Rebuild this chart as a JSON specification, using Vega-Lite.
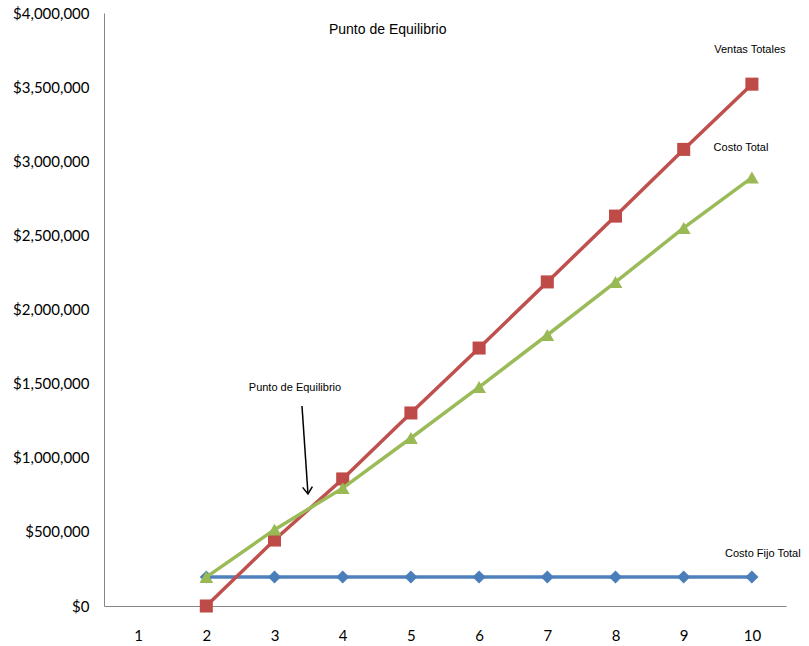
{
  "$schema": "https://vega.github.io/schema/vega-lite/v6.json",
  "autosize": "none",
  "width": 682,
  "height": 593,
  "padding": {"left": 104, "top": 13, "right": 23, "bottom": 40},
  "background": "white",
  "config": {"view": {"stroke": null}},
  "datasets": {
    "series": [
      {"serie": "Costo Fijo Total", "unidades": 2, "valor": 195000},
      {"serie": "Costo Fijo Total", "unidades": 3, "valor": 195000},
      {"serie": "Costo Fijo Total", "unidades": 4, "valor": 195000},
      {"serie": "Costo Fijo Total", "unidades": 5, "valor": 195000},
      {"serie": "Costo Fijo Total", "unidades": 6, "valor": 195000},
      {"serie": "Costo Fijo Total", "unidades": 7, "valor": 195000},
      {"serie": "Costo Fijo Total", "unidades": 8, "valor": 195000},
      {"serie": "Costo Fijo Total", "unidades": 9, "valor": 195000},
      {"serie": "Costo Fijo Total", "unidades": 10, "valor": 195000},
      {"serie": "Ventas Totales", "unidades": 2, "valor": 0},
      {"serie": "Ventas Totales", "unidades": 3, "valor": 445000},
      {"serie": "Ventas Totales", "unidades": 4, "valor": 857000},
      {"serie": "Ventas Totales", "unidades": 5, "valor": 1302000},
      {"serie": "Ventas Totales", "unidades": 6, "valor": 1740000},
      {"serie": "Ventas Totales", "unidades": 7, "valor": 2186000},
      {"serie": "Ventas Totales", "unidades": 8, "valor": 2630000},
      {"serie": "Ventas Totales", "unidades": 9, "valor": 3080000},
      {"serie": "Ventas Totales", "unidades": 10, "valor": 3520000},
      {"serie": "Costo Total", "unidades": 2, "valor": 195000},
      {"serie": "Costo Total", "unidades": 3, "valor": 515000},
      {"serie": "Costo Total", "unidades": 4, "valor": 795000},
      {"serie": "Costo Total", "unidades": 5, "valor": 1133000},
      {"serie": "Costo Total", "unidades": 6, "valor": 1477000},
      {"serie": "Costo Total", "unidades": 7, "valor": 1828000},
      {"serie": "Costo Total", "unidades": 8, "valor": 2185000},
      {"serie": "Costo Total", "unidades": 9, "valor": 2550000},
      {"serie": "Costo Total", "unidades": 10, "valor": 2890000}
    ],
    "labels": [
      {"texto": "Ventas Totales", "x": 9.97, "y": 3750000},
      {"texto": "Costo Total", "x": 9.84, "y": 3090000},
      {"texto": "Costo Fijo Total", "x": 10.16, "y": 350000},
      {"texto": "Punto de Equilibrio", "x": 3.3, "y": 1470000}
    ],
    "title": [
      {"texto": "Punto de Equilibrio", "x": 4.66, "y": 3885000}
    ],
    "arrow": [
      {"x1": 3.403, "y1": 1349000, "x2": 3.491, "y2": 755500}
    ]
  },
  "encoding": {
    "x": {
      "type": "quantitative",
      "scale": {"domain": [0.5, 10.5], "nice": false, "zero": false},
      "axis": {
        "title": null,
        "values": [1, 2, 3, 4, 5, 6, 7, 8, 9, 10],
        "grid": false,
        "ticks": false,
        "domainColor": "#868686",
        "domainWidth": 1,
        "labelFont": "Lato",
        "labelFontSize": 15,
        "labelColor": "#000000",
        "labelPadding": 22,
        "labelFlush": false
      }
    },
    "y": {
      "type": "quantitative",
      "scale": {"domain": [0, 4000000], "nice": false},
      "axis": {
        "title": null,
        "values": [0, 500000, 1000000, 1500000, 2000000, 2500000, 3000000, 3500000, 4000000],
        "format": "$,.0f",
        "grid": false,
        "ticks": false,
        "domainColor": "#868686",
        "domainWidth": 1,
        "labelFont": "Lato",
        "labelFontSize": 15,
        "labelColor": "#000000",
        "labelPadding": 15,
        "labelFlush": false
      }
    }
  },
  "layer": [
    {
      "data": {"name": "series"},
      "transform": [{"filter": "datum.serie === 'Costo Fijo Total'"}],
      "mark": {"type": "line", "color": "#4F81BD", "strokeWidth": 3.5},
      "encoding": {"x": {"field": "unidades"}, "y": {"field": "valor"}}
    },
    {
      "data": {"name": "series"},
      "transform": [{"filter": "datum.serie === 'Costo Fijo Total'"}],
      "mark": {"type": "point", "shape": "diamond", "filled": true, "opacity": 1, "color": "#4A7EBB", "size": 170},
      "encoding": {"x": {"field": "unidades"}, "y": {"field": "valor"}}
    },
    {
      "data": {"name": "series"},
      "transform": [{"filter": "datum.serie === 'Ventas Totales'"}],
      "mark": {"type": "line", "color": "#C0504D", "strokeWidth": 3.5},
      "encoding": {"x": {"field": "unidades"}, "y": {"field": "valor"}}
    },
    {
      "data": {"name": "series"},
      "transform": [{"filter": "datum.serie === 'Ventas Totales'"}],
      "mark": {"type": "point", "shape": "square", "filled": true, "opacity": 1, "color": "#BE4B48", "size": 170},
      "encoding": {"x": {"field": "unidades"}, "y": {"field": "valor"}}
    },
    {
      "data": {"name": "series"},
      "transform": [{"filter": "datum.serie === 'Costo Total'"}],
      "mark": {"type": "line", "color": "#9BBB59", "strokeWidth": 3.5},
      "encoding": {"x": {"field": "unidades"}, "y": {"field": "valor"}}
    },
    {
      "data": {"name": "series"},
      "transform": [{"filter": "datum.serie === 'Costo Total'"}],
      "mark": {"type": "point", "shape": "triangle-up", "filled": true, "opacity": 1, "color": "#98B954", "size": 190},
      "encoding": {"x": {"field": "unidades"}, "y": {"field": "valor"}}
    },
    {
      "data": {"name": "labels"},
      "mark": {"type": "text", "font": "Liberation Sans", "fontSize": 11, "color": "#000000", "align": "center", "baseline": "middle", "letterSpacing": -0.4},
      "encoding": {"x": {"field": "x"}, "y": {"field": "y"}, "text": {"field": "texto"}}
    },
    {
      "data": {"name": "title"},
      "mark": {"type": "text", "font": "Liberation Sans", "fontSize": 14, "color": "#000000", "align": "center", "baseline": "middle", "letterSpacing": -0.1},
      "encoding": {"x": {"field": "x"}, "y": {"field": "y"}, "text": {"field": "texto"}}
    },
    {
      "data": {"name": "arrow"},
      "mark": {"type": "rule", "color": "#000000", "strokeWidth": 1.5},
      "encoding": {"x": {"field": "x1"}, "y": {"field": "y1"}, "x2": {"field": "x2"}, "y2": {"field": "y2"}}
    },
    {
      "data": {"name": "arrow"},
      "mark": {"type": "point", "shape": "M-0.7,-1L0,0L0.7,-1", "filled": false, "opacity": 1, "color": "#000000", "strokeWidth": 1.5, "size": 196, "angle": 356},
      "encoding": {"x": {"field": "x2"}, "y": {"field": "y2"}}
    }
  ]
}
